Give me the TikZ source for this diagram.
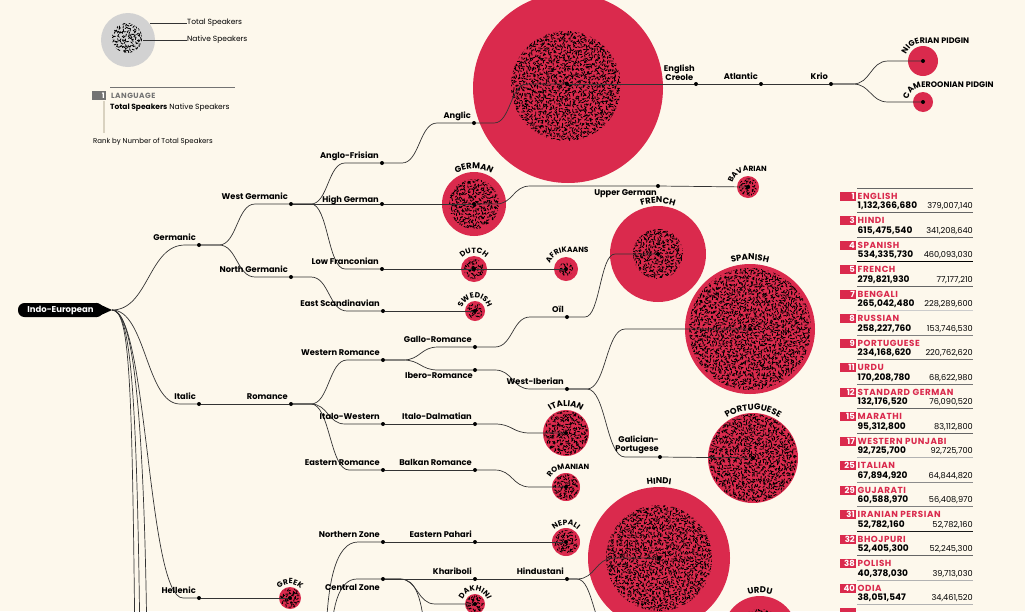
\documentclass[tikz,border=0pt]{standalone}
\usepackage{fontspec}
\setmainfont{Poppins}
\newfontfamily\capsfont{Poppins}[LetterSpace=6]
\usetikzlibrary{calc,decorations.text}
\pgfdeclarelayer{bg}
\pgfdeclarelayer{fg}
\pgfsetlayers{bg,main,fg}
\definecolor{paper}{HTML}{FDF8EC}
\definecolor{langred}{HTML}{DA2A4D}
\definecolor{lgrey}{HTML}{D2D2D2}
\definecolor{ink}{HTML}{333333}
\definecolor{rule}{HTML}{D9D2C0}
\tikzset{
 branch/.style={draw=ink, line width=0.7pt},
 dot/.style={circle, fill=black, inner sep=0pt, minimum size=4pt},
 lab/.style={font=\bfseries\fontsize{8.3}{9}\selectfont, inner sep=0pt, anchor=base east, text=black},
 speck/.style={draw=black, line width=0.85pt, line cap=round},
 lang/.style={fill=langred},
 rk/.style={font=\bfseries\fontsize{8.5}{8.5}\selectfont, text=white, inner sep=0pt, anchor=base east},
 tname/.style={font=\capsfont\bfseries\fontsize{8.8}{8.8}\selectfont, text=langred, inner sep=0pt, anchor=base west},
 ttot/.style={font=\bfseries\fontsize{9}{9}\selectfont, inner sep=0pt, anchor=base west},
 tnat/.style={font=\fontsize{8.2}{8.2}\selectfont, inner sep=0pt, anchor=base east},
 legtxt/.style={font=\fontsize{7.5}{8}\selectfont, inner sep=0pt, anchor=west},
}
\newcommand\bz[4]{\draw[branch] let \p1=(#1), \p2=(#2), \n1={0.5*(\x2-\x1-#3-#4)} in (#1) -- (\x1+#3,\y1) .. controls (\x1+#3+\n1,\y1) and (\x2-#4-\n1,\y2) .. (\x2-#4,\y2) -- (#2);}
\newcommand\speckle[2]{%
 \begin{scope}
 \clip (#1) circle[radius=#2];
 \pgfmathsetmacro\spA{-#2}\pgfmathsetmacro\spB{-#2+2.7}%
 \foreach \i in {\spA,\spB,...,#2}
   \draw[speck, shift={(#1)}] \foreach \j in {\spA,\spB,...,#2}{({\i+0.9*rand},{\j+0.9*rand}) -- ++({360*rnd}:2.1)};
 \end{scope}}
\newcommand\arclab[4]{\path[decorate, decoration={text along path, text align=center, text={|\capsfont\bfseries\fontsize{#4}{#4}\selectfont|#3}}] #1 ++(200:#2pt) arc[start angle=200, end angle=-20, radius=#2pt];}
\newcommand\tanlab[5]{\path[decorate, decoration={text along path, text align=left, text={|\capsfont\bfseries\fontsize{#5}{#5}\selectfont|#4}}] #1 ++(#3:#2pt) arc[start angle=#3, end angle=90, radius=#2pt] -- ++(140pt,0pt);}
\newcommand\trow[6]{%
 \pgfmathsetmacro\ry{196+24.5*#1}%
 \draw[#6, line width=0.8pt] (857,{\ry+16.5}) -- (973,{\ry+16.5});
 \fill[langred] (840,{\ry-4.5}) rectangle (856,{\ry+4.5});
 \node[rk] (rank#1) at (855,{\ry+3.2}) {#2};
 \node[tname] (tname#1) at (857.5,{\ry+3.2}) {#3};
 \node[ttot] (ttot#1) at (857.5,{\ry+12.8}) {#4};
 \node[tnat] (tnat#1) at (973,{\ry+12.8}) {#5};}
\begin{document}
\begin{tikzpicture}[x=1pt,y=-1pt]
\useasboundingbox (0,0) rectangle (1025,611);
\clip (0,0) rectangle (1025,611);
\pgfmathsetseed{4711}
% ---------- background and circles ----------
\begin{pgfonlayer}{bg}
\fill[paper] (0,0) rectangle (1025,611);
\fill[lgrey] (128,40) circle[radius=27];
\fill[lang] (568,88) circle[radius=95];
\fill[lang] (474,204) circle[radius=32];
\fill[lang] (474,269) circle[radius=13];
\fill[lang] (566,269) circle[radius=12];
\fill[lang] (475,311) circle[radius=10];
\fill[lang] (748,187) circle[radius=11];
\fill[lang] (923,61) circle[radius=15];
\fill[lang] (923,102) circle[radius=10];
\fill[lang] (658,254) circle[radius=48];
\fill[lang] (750,329) circle[radius=65];
\fill[lang] (753,458) circle[radius=45];
\fill[lang] (566,433) circle[radius=23];
\fill[lang] (566,487) circle[radius=14];
\fill[lang] (290,598) circle[radius=11];
\fill[lang] (566,542) circle[radius=14];
\fill[lang] (659,558) circle[radius=71];
\fill[lang] (760,633) circle[radius=37];
\fill[lang] (475,604) circle[radius=10];
\speckle{127,38}{15}
\speckle{566,86}{55}
\speckle{474,204}{25}
\speckle{474,269}{10}
\speckle{566,269}{7}
\speckle{475,311}{8}
\speckle{748,187}{9}
\speckle{658,254}{25}
\speckle{750,329}{61}
\speckle{753,458}{44}
\speckle{566,433}{22}
\speckle{566,487}{13}
\speckle{290,598}{10}
\speckle{566,542}{12}
\speckle{659,558}{53}
\speckle{760,633}{24}
\speckle{475,604}{9}
\end{pgfonlayer}
% ---------- legend ----------
\node[legtxt] (lg-total) at (187,23) {Total Speakers};
\node[legtxt] (lg-native) at (187,40) {Native Speakers};
\draw[ink, line width=0.5pt] (150,23) -- (lg-total.west);
\draw[ink, line width=0.5pt] (143,40) -- (lg-native.west);
\draw[black!55, line width=0.6pt] (110,87) -- (235,87);
\fill[black!55] (92,90.5) rectangle (106,99.5);
\node[rk, font=\bfseries\fontsize{7.5}{8}\selectfont] (lg-rank) at (105,98) {1};
\node[font=\capsfont\bfseries\fontsize{7.5}{8}\selectfont, text=black!55, inner sep=0pt, anchor=base west] (lg-lang) at (111,98) {LANGUAGE};
\node[font=\fontsize{7.5}{8}\selectfont, inner sep=0pt, anchor=base west] (lg-ts) at (110,109.5) {\textbf{Total Speakers} Native Speakers};
\draw[rule, line width=1.5pt] (104,101) -- (104,133);
\node[font=\fontsize{7}{8}\selectfont, inner sep=0pt, anchor=base west] (lg-rankby) at (93,143) {Rank by Number of Total Speakers};
% ---------- root ----------
\node[fill=black, text=white, font=\bfseries\fontsize{8.5}{9}\selectfont, rounded corners=6.5pt, minimum height=14pt, minimum width=85pt, inner ysep=0pt] (iebox) at (60.5,310) {Indo-European};
\coordinate (ie) at (112,310);
\fill[black] ([xshift=-7pt]iebox.north east) -- (ie) -- ([xshift=-7pt]iebox.south east) -- cycle;
\coordinate (off1) at (135,650);
\coordinate (off2) at (140,650);
\coordinate (off3) at (147,650);
\coordinate (ia1) at (326,650);
\coordinate (ia2) at (331,650);
\coordinate (czoff) at (426,650);
% ---------- dots ----------
\begin{pgfonlayer}{fg}
\foreach \n/\x/\y in {germanic/199/245, wgerm/291/204, ngerm/291/277, afris/382/163, hgerm/382/204, lfranc/382/269, anglic/474/123, english/567/84, ecreole/696/84, atlantic/761/84, krio/831/84, nigerian/923/61, cameroon/923/102, escand/383/311, swedish/475/311, german/474/204, uppergerm/658/186, bavarian/748/187, dutch/474/269, afrikaans/566/269, italic/199/404, romance/291/404, wrom/383/360, itwest/383/424, erom/383/470, gallo/475/347, ibero/475/370, oil/567/317, french/658/254, wiber/567/389, spanish/750/329, galport/660/457, portuguese/753/458, itdalm/475/424, italian/566/433, balkan/475/470, romanian/566/487, hellenic/199/598, greek/290/598, nzone/383/542, epahari/475/542, nepali/566/542, czone/383/579, khariboli/475/579, hindustani/567/579, hindi/659/558, urdu/760/633, dakhini/475/604}
  \node[dot] (\n) at (\x,\y) {};
\end{pgfonlayer}
% ---------- connectors ----------
\bz{ie}{germanic}{0}{14}
\bz{ie}{italic}{0}{19}
\bz{ie}{hellenic}{0}{16}
\foreach \o in {off1,off2,off3}
  \draw[branch] let \p1=(ie), \p2=(\o) in (ie) .. controls (\x1+18,\y1) and (\x2-3,\y1-70) .. (\o);
\bz{germanic}{wgerm}{20}{36}
\bz{germanic}{ngerm}{20}{36}
\bz{wgerm}{afris}{20}{37}
\draw[branch] (wgerm) -- (hgerm);
\bz{wgerm}{lfranc}{20}{37}
\bz{afris}{anglic}{20}{37}
\bz{anglic}{english}{20}{40}
\draw[branch] (english) -- (ecreole);
\draw[branch] (ecreole) -- (atlantic);
\draw[branch] (atlantic) -- (krio);
\bz{krio}{nigerian}{22}{35}
\bz{krio}{cameroon}{22}{35}
\draw[branch] (hgerm) -- (german);
\bz{german}{uppergerm}{22}{128}
\draw[branch] (uppergerm) -- (bavarian);
\draw[branch] (lfranc) -- (dutch);
\draw[branch] (dutch) -- (afrikaans);
\bz{ngerm}{escand}{20}{36}
\draw[branch] (escand) -- (swedish);
\draw[branch] (italic) -- (romance);
\bz{romance}{wrom}{20}{36}
\bz{romance}{itwest}{20}{38}
\bz{romance}{erom}{20}{34}
\bz{wrom}{gallo}{20}{37}
\bz{wrom}{ibero}{20}{37}
\bz{gallo}{oil}{20}{37}
\bz{oil}{french}{18}{43}
\bz{ibero}{wiber}{20}{37}
\bz{wiber}{spanish}{20}{125}
\bz{wiber}{galport}{20}{35}
\draw[branch] (galport) -- (portuguese);
\draw[branch] (itwest) -- (itdalm);
\bz{itdalm}{italian}{20}{36}
\draw[branch] (erom) -- (balkan);
\bz{balkan}{romanian}{20}{36}
\draw[branch] (hellenic) -- (greek);
\draw[branch] let \p1=(ia1), \p2=(nzone) in (ia1) .. controls (\x1,\y2-40) and (\x1+10,\y2) .. (\x2-25,\y2) -- (nzone);
\draw[branch] let \p1=(ia2), \p2=(czone) in (ia2) .. controls (\x1,\y2-30) and (\x1+7,\y2) .. (\x2-26,\y2) -- (czone);
\draw[branch] (nzone) -- (epahari);
\draw[branch] (epahari) -- (nepali);
\draw[branch] (czone) -- (khariboli);
\draw[branch] (khariboli) -- (hindustani);
\bz{czone}{dakhini}{17}{40}
\draw[branch] let \p1=(czone), \p2=(czoff) in (czone) -- (\x1+17,\y1) .. controls (\x1+32,\y1) and (\x2-3,\y1-15) .. (czoff);
\bz{hindustani}{hindi}{10}{45}
\bz{hindustani}{urdu}{10}{150}
% ---------- branch labels ----------
\foreach \n/\t in {germanic/Germanic, wgerm/West Germanic, ngerm/North Germanic, afris/Anglo-Frisian, lfranc/Low Franconian, anglic/Anglic, escand/East Scandinavian, italic/Italic, romance/Romance, wrom/Western Romance, itwest/Italo-Western, erom/Eastern Romance, gallo/Gallo-Romance, wiber/West-Iberian, oil/Oïl, itdalm/Italo-Dalmatian, balkan/Balkan Romance, hellenic/Hellenic, nzone/Northern Zone, epahari/Eastern Pahari, khariboli/Khariboli, hindustani/Hindustani, atlantic/Atlantic, krio/Krio}
  \node[lab] (\n-l) at ([shift={(-3,-4.5)}]\n.center) {\t};
\node[lab] (hgerm-l) at ([shift={(-3,-1.5)}]hgerm.center) {High German};
\node[lab] (ibero-l) at ([shift={(-2,8.5)}]ibero.center) {Ibero-Romance};
\node[lab] (czone-l) at ([shift={(-3,11)}]czone.center) {Central Zone};
\node[lab] (uppergerm-l) at ([shift={(-1,9)}]uppergerm.center) {Upper German};
\node[lab, align=center, anchor=south east] (ecreole-l) at ([shift={(-1,-3)}]ecreole.center) {English\\Creole};
\node[lab, align=right, anchor=south east] (galport-l) at ([shift={(-1,-3)}]galport.center) {Galician-\\Portugese};
% ---------- language names on circles ----------
\arclab{(474,204)}{35}{GERMAN}{8.5}
\arclab{(474,269)}{16}{DUTCH}{7.5}
\arclab{(475,311)}{13}{SWEDISH}{7.5}
\arclab{(658,254)}{51}{FRENCH}{8.5}
\arclab{(750,329)}{69}{SPANISH}{8.5}
\arclab{(753,458)}{48}{PORTUGUESE}{8.5}
\arclab{(566,433)}{27}{ITALIAN}{8.5}
\arclab{(290,598)}{14}{GREEK}{7.5}
\arclab{(566,542)}{17}{NEPALI}{7.5}
\arclab{(475,604)}{13}{DAKHINI}{7.5}
\arclab{(659,558)}{74}{HINDI}{8.5}
\arclab{(760,633)}{40}{URDU}{8.5}
\tanlab{(566,269)}{17}{160}{AFRIKAANS}{7.5}
\tanlab{(748,187)}{16}{165}{BAVARIAN}{7.5}
\tanlab{(566,487)}{18}{150}{ROMANIAN}{7.5}
\tanlab{(923,61)}{18}{160}{NIGERIAN PIDGIN}{8}
\tanlab{(923,102)}{15}{170}{CAMEROONIAN PIDGIN}{8}
% ---------- table ----------
\draw[black!60, line width=0.8pt] (857,188) -- (973,188);
\trow{0}{1}{ENGLISH}{1,132,366,680}{379,007,140}{black!60}
\trow{1}{3}{HINDI}{615,475,540}{341,208,640}{black!60}
\trow{2}{4}{SPANISH}{534,335,730}{460,093,030}{black}
\trow{3}{5}{FRENCH}{279,821,930}{77,177,210}{black!60}
\trow{4}{7}{BENGALI}{265,042,480}{228,289,600}{black!20}
\trow{5}{8}{RUSSIAN}{258,227,760}{153,746,530}{black!50}
\trow{6}{9}{PORTUGUESE}{234,168,620}{220,762,620}{black!55}
\trow{7}{11}{URDU}{170,208,780}{68,622,980}{black!55}
\trow{8}{12}{STANDARD GERMAN}{132,176,520}{76,090,520}{black!60}
\trow{9}{15}{MARATHI}{95,312,800}{83,112,800}{black!60}
\trow{10}{17}{WESTERN PUNJABI}{92,725,700}{92,725,700}{black!30}
\trow{11}{25}{ITALIAN}{67,894,920}{64,844,820}{black!45}
\trow{12}{29}{GUJARATI}{60,588,970}{56,408,970}{black!50}
\trow{13}{31}{IRANIAN PERSIAN}{52,782,160}{52,782,160}{black!90}
\trow{14}{32}{BHOJPURI}{52,405,300}{52,245,300}{black!60}
\trow{15}{38}{POLISH}{40,378,030}{39,713,030}{black!30}
\trow{16}{40}{ODIA}{38,051,547}{34,461,520}{black!30}
\fill[langred] (840,{196+24.5*17-4.5}) rectangle (856,{196+24.5*17+4.5});
\end{tikzpicture}
\end{document}
